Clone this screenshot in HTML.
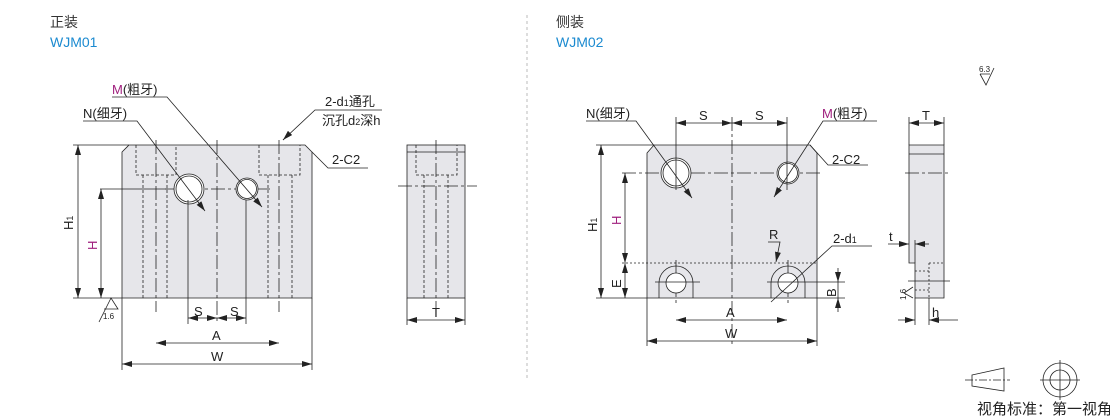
<!DOCTYPE html>
<html><head><meta charset="utf-8"><style>
body{margin:0;background:#fff;}
svg{display:block;font-family:"Liberation Sans","Noto Sans CJK SC",sans-serif;}
</style></head><body>
<svg width="1110" height="420" viewBox="0 0 1110 420" xmlns="http://www.w3.org/2000/svg">
<defs>
<marker id="a" viewBox="0 0 10 6" refX="10" refY="3" markerWidth="10" markerHeight="6" orient="auto-start-reverse" markerUnits="userSpaceOnUse"><path d="M0,0 L10,3 L0,6 z" fill="#222"/></marker>
</defs>
<g font-size="14" fill="#333">
<text x="50" y="27">正装</text>
<text x="50" y="47" fill="#1b8ad0">WJM01</text>
<text x="556" y="27">侧装</text>
<text x="556" y="47" fill="#1b8ad0">WJM02</text>
</g>
<line x1="527" y1="15" x2="527" y2="378" stroke="#bbb" stroke-dasharray="3,3"/>

<g stroke="#222" stroke-width="0.8" fill="none">
<!-- LEFT FRONT -->
<path d="M129,145 L305,145 L312,152 L312,298 L122,298 L122,152 Z" fill="#e6e6ea"/>
<g stroke-dasharray="3,2">
<path d="M136,145 V175 H176 V145 M143,175 V298 M167,175 V298"/>
<path d="M259,145 V175 H300 V145 M268,175 V298 M292,175 V298"/>
</g>
<g stroke-dasharray="14,3,3,3">
<line x1="156" y1="140" x2="156" y2="312"/>
<line x1="279" y1="140" x2="279" y2="312"/>
<line x1="217" y1="140" x2="217" y2="322"/>
<line x1="165" y1="189" x2="270" y2="189"/>
</g>
<circle cx="189" cy="189" r="15" fill="#fff"/><circle cx="189" cy="189" r="13"/>
<circle cx="247" cy="189" r="11" fill="#fff"/><circle cx="247" cy="189" r="9.5"/>
<line x1="188" y1="200" x2="188" y2="324"/><line x1="246" y1="200" x2="246" y2="324"/>
<line x1="100" y1="189" x2="168" y2="189"/>
<line x1="73" y1="145" x2="129" y2="145"/><line x1="73" y1="298" x2="122" y2="298"/>
<line x1="78" y1="145" x2="78" y2="298" marker-start="url(#a)" marker-end="url(#a)"/>
<line x1="101" y1="189" x2="101" y2="298" marker-start="url(#a)" marker-end="url(#a)"/>
<line x1="122" y1="298" x2="122" y2="370"/><line x1="312" y1="298" x2="312" y2="370"/>
<line x1="188" y1="318" x2="217" y2="318" marker-start="url(#a)" marker-end="url(#a)"/>
<line x1="217" y1="318" x2="246" y2="318" marker-start="url(#a)" marker-end="url(#a)"/>
<line x1="156" y1="343" x2="279" y2="343" marker-start="url(#a)" marker-end="url(#a)"/>
<line x1="122" y1="364" x2="312" y2="364" marker-start="url(#a)" marker-end="url(#a)"/>
<!-- leaders -->
<path d="M83,121 H137 L205,211" marker-end="url(#a)"/>
<path d="M112,97 H167 L262,207" marker-end="url(#a)"/>
<path d="M324,110 H382 M324,110 H315 L283,140" /><line x1="290" y1="133" x2="283" y2="140" marker-end="url(#a)"/>
<path d="M312,152 L328,168 H368"/>
<!-- surface 1.6 -->
<path d="M99,322 L111,298 L118,309 H104"/>
<!-- side view -->
<rect x="407" y="145" width="58" height="153" fill="#e6e6ea"/>
<line x1="407" y1="152" x2="465" y2="152"/>
<g stroke-dasharray="3,2"><path d="M416,145 V175 H457 V145 M424,175 V298 M448,175 V298"/></g>
<g stroke-dasharray="14,3,3,3"><line x1="436" y1="140" x2="436" y2="318"/><line x1="398" y1="186" x2="477" y2="186"/></g>
<line x1="407" y1="298" x2="407" y2="325"/><line x1="465" y1="298" x2="465" y2="325"/>
<line x1="407" y1="320" x2="465" y2="320" marker-start="url(#a)" marker-end="url(#a)"/>

<!-- RIGHT FRONT -->
<path d="M654,145 L810,145 L817,153 L817,298 L647,298 L647,153 Z" fill="#e6e6ea"/>
<g stroke-dasharray="14,3,3,3">
<line x1="732" y1="117" x2="732" y2="345"/>
<line x1="622" y1="173" x2="822" y2="173"/>
<line x1="676" y1="260" x2="676" y2="305"/><line x1="788" y1="260" x2="788" y2="305"/>
</g>
<line x1="622" y1="263" x2="817" y2="263" stroke-dasharray="2,2"/>
<circle cx="676" cy="173" r="15" fill="#fff"/><circle cx="676" cy="173" r="13"/>
<circle cx="788" cy="173" r="11" fill="#fff"/><circle cx="788" cy="173" r="9.5"/>
<line x1="676" y1="117" x2="676" y2="190"/><line x1="787" y1="117" x2="787" y2="190"/>
<path d="M659,298 V283 A17,17 0 0 1 693,283 V298"/><circle cx="676" cy="283" r="10" fill="#fff"/>
<path d="M771,298 V283 A17,17 0 0 1 805,283 V298"/><circle cx="788" cy="283" r="10" fill="#fff"/>
<line x1="655" y1="282" x2="700" y2="282"/><line x1="767" y1="282" x2="812" y2="282"/>
<line x1="812" y1="282" x2="845" y2="282"/><line x1="817" y1="298" x2="845" y2="298"/>
<line x1="676" y1="123" x2="732" y2="123" marker-start="url(#a)" marker-end="url(#a)"/>
<line x1="732" y1="123" x2="787" y2="123" marker-start="url(#a)" marker-end="url(#a)"/>
<line x1="596" y1="145" x2="654" y2="145"/><line x1="596" y1="298" x2="647" y2="298"/>
<line x1="601" y1="145" x2="601" y2="298" marker-start="url(#a)" marker-end="url(#a)"/>
<line x1="625" y1="173" x2="625" y2="263" marker-start="url(#a)" marker-end="url(#a)"/>
<line x1="625" y1="263" x2="625" y2="298" marker-start="url(#a)" marker-end="url(#a)"/>
<line x1="838" y1="268" x2="838" y2="282" marker-end="url(#a)"/>
<line x1="838" y1="312" x2="838" y2="298" marker-end="url(#a)"/>
<line x1="838" y1="298" x2="838" y2="282"/>
<line x1="647" y1="298" x2="647" y2="346"/><line x1="817" y1="298" x2="817" y2="346"/>
<line x1="676" y1="320" x2="787" y2="320" marker-start="url(#a)" marker-end="url(#a)"/>
<line x1="647" y1="341" x2="817" y2="341" marker-start="url(#a)" marker-end="url(#a)"/>
<path d="M586,121 H636 L692,198" marker-end="url(#a)"/>
<path d="M877,121 H823 L774,197" marker-end="url(#a)"/>
<path d="M810,145 L828,165 H868"/>
<path d="M768,242 H780 L776,262" marker-end="url(#a)"/>
<path d="M872,246 H832 L771,302"/>
<!-- right side view -->
<path d="M909,145 H944 V298 H915 V263 H909 Z" fill="#e6e6ea"/>
<line x1="909" y1="154" x2="944" y2="154"/>
<g stroke-dasharray="2,2"><path d="M929,263 H944 M929,263 V298 M915,271 H929 M915,290 H929"/></g>
<line x1="905" y1="173" x2="948" y2="173" stroke-dasharray="14,3,3,3"/>
<line x1="908" y1="281" x2="950" y2="281"/>
<line x1="909" y1="117" x2="909" y2="145"/><line x1="944" y1="117" x2="944" y2="145"/>
<line x1="909" y1="123" x2="944" y2="123" marker-start="url(#a)" marker-end="url(#a)"/>
<line x1="915" y1="240" x2="915" y2="263"/>
<line x1="888" y1="244" x2="909" y2="244" marker-end="url(#a)"/>
<line x1="929" y1="244" x2="915" y2="244" marker-end="url(#a)"/>
<line x1="915" y1="298" x2="915" y2="325"/><line x1="929" y1="298" x2="929" y2="325"/>
<line x1="898" y1="320" x2="915" y2="320" marker-end="url(#a)"/>
<line x1="958" y1="320" x2="929" y2="320" marker-end="url(#a)"/>
<path d="M913,287 L904,293 L913,298"/>
<!-- 6.3 -->
<path d="M980,74 L986,85 L994,68 M980,74 H990"/>
<!-- projection symbol -->
<path d="M972,375 L1004,368 V391 L972,386 Z"/>
<line x1="965" y1="380" x2="1010" y2="380" stroke-dasharray="8,2,2,2"/>
<circle cx="1060" cy="380" r="17"/><circle cx="1060" cy="380" r="10"/>
<line x1="1040" y1="380" x2="1080" y2="380"/><line x1="1060" y1="360" x2="1060" y2="400"/>
</g>

<g font-size="13" fill="#222">
<text x="83" y="118">N(细牙)</text>
<text x="112" y="94"><tspan fill="#a0207e">M</tspan>(粗牙)</text>
<text x="325" y="106">2-d<tspan font-size="9">1</tspan>通孔</text>
<text x="322" y="125">沉孔d<tspan font-size="9">2</tspan>深h</text>
<text x="332" y="164">2-C2</text>
<text x="194" y="316">S</text><text x="230" y="316">S</text>
<text x="212" y="340">A</text><text x="211" y="361">W</text>
<text x="432" y="317">T</text>
<text transform="translate(73,230) rotate(-90)">H<tspan font-size="9">1</tspan></text>
<text transform="translate(97,250) rotate(-90)" fill="#a0207e">H</text>
<text x="103" y="319" font-size="8">1.6</text>

<text x="586" y="118">N(细牙)</text>
<text x="822" y="118"><tspan fill="#a0207e">M</tspan>(粗牙)</text>
<text x="699" y="120">S</text><text x="755" y="120">S</text>
<text x="832" y="164">2-C2</text>
<text x="769" y="239">R</text>
<text x="833" y="243">2-d<tspan font-size="9">1</tspan></text>
<text x="726" y="317">A</text><text x="725" y="338">W</text>
<text transform="translate(597,232) rotate(-90)">H<tspan font-size="9">1</tspan></text>
<text transform="translate(621,225) rotate(-90)" fill="#a0207e">H</text>
<text transform="translate(621,288) rotate(-90)">E</text>
<text transform="translate(836,297) rotate(-90)">B</text>
<text x="922" y="120">T</text>
<text x="889" y="241">t</text>
<text x="932" y="317">h</text>
<text transform="translate(906,300) rotate(-90)" font-size="8">1.6</text>
<text x="979" y="72" font-size="8">6.3</text>
<text x="977" y="414" font-size="15">视角标准：第一视角</text>
</g>
</svg>
</body></html>
